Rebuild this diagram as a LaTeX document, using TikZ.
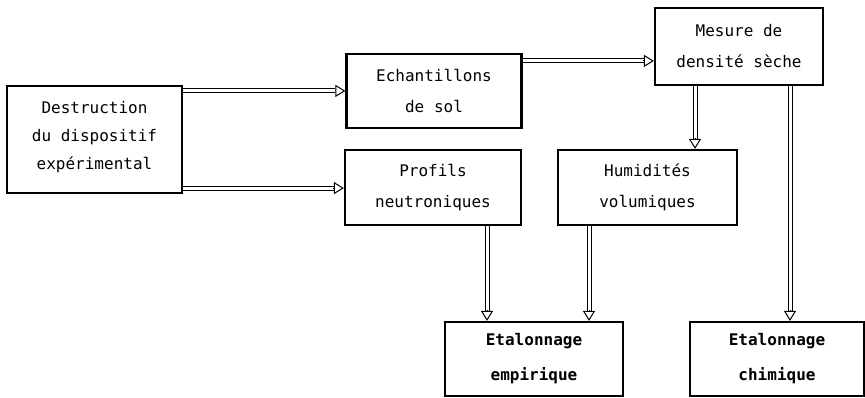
\documentclass[tikz,border=0pt]{standalone}
\usepackage{fontspec}
\setmonofont{DejaVu Sans Mono}
\usetikzlibrary{arrows.meta,calc}
\tikzset{
  box/.style={draw, line width=2.2pt, rectangle, align=center, inner sep=0pt,
    font=\ttfamily\fontsize{16}{31}\selectfont},
  boldbox/.style={box, font=\ttfamily\bfseries\fontsize{16}{35}\selectfont},
  shaft/.style={draw, line width=1pt, double distance=3pt, shorten >=10pt},
  head/.style={line width=1pt, -{Triangle[open,length=10pt,width=12pt]}}
}
\newcommand\dblarr[2]{\draw[shaft] (#1) -- (#2); \draw[head] ($(#2)!10.5pt!(#1)$) -- (#2);}
\begin{document}
\begin{tikzpicture}[x=1pt,y=-1pt]
\useasboundingbox (0,0) rectangle (865,397);
\clip (0,0) rectangle (865,397);
\node[box, minimum width=175pt, minimum height=107pt, font=\ttfamily\fontsize{16}{28}\selectfont] (dest) at (94.5,139.5) {Destruction\\du dispositif\\expérimental\\[-20pt]};
\node[box, minimum width=175pt, minimum height=74pt] (ech) at (434,91) {Echantillons\\de sol};
\node[box, minimum width=176pt, minimum height=75pt] (prof) at (433,187.5) {Profils\\neutroniques};
\node[box, minimum width=168pt, minimum height=77pt] (mes) at (739,46.5) {Mesure de\\densité sèche};
\node[box, minimum width=179pt, minimum height=75pt] (hum) at (647.5,187.5) {Humidités\\volumiques};
\node[boldbox, minimum width=178pt, minimum height=74pt] (emp) at (534,359) {Etalonnage\\empirique};
\node[boldbox, minimum width=174pt, minimum height=74pt] (chim) at (777,359) {Etalonnage\\chimique};
\coordinate (a1) at ([yshift=-6pt]dest.north east);
\coordinate (a2) at ([yshift=6pt]dest.south east);
\coordinate (a3) at ([yshift=-8pt]ech.north east);
\coordinate (a4) at ([xshift=-44pt]mes.south);
\coordinate (a5) at ([xshift=51pt]mes.south);
\coordinate (a6) at ([xshift=54pt]prof.south);
\coordinate (a7) at ([xshift=-58.5pt]hum.south);
\dblarr{a1}{ech.west |- a1}
\dblarr{a2}{prof.west |- a2}
\dblarr{a3}{mes.west |- a3}
\dblarr{a4}{hum.north -| a4}
\dblarr{a5}{chim.north -| a5}
\dblarr{a6}{emp.north -| a6}
\dblarr{a7}{emp.north -| a7}
\end{tikzpicture}
\end{document}
